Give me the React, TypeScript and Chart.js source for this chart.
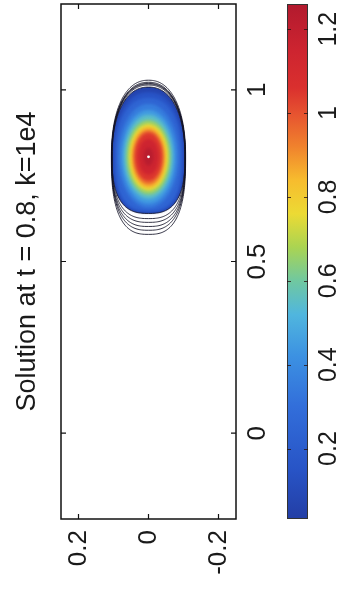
import React, { useEffect, useRef } from "react";
import { Chart, registerables } from "chart.js";

Chart.register(...registerables);

const W = 341;
const H = 591;

// Axis ranges (the figure is rotated: solution x runs upward, solution y runs right-to-left)
const posMin = -0.25;
const posMax = 1.25;
const crossMin = -0.25;
const crossMax = 0.25;
const colorMin = 0.032;
const colorMax = 1.26;

// Ticks
const posTicks = [0, 0.5, 1];
const posTickLabels = ["0", "0.5", "1"];
const crossTicks = [0.2, 0, -0.2];
const crossTickLabels = ["0.2", "0", "-0.2"];
const colorTicks = [0.2, 0.4, 0.6, 0.8, 1, 1.2];
const colorTickLabels = ["0.2", "0.4", "0.6", "0.8", "1", "1.2"];

const titleText = "Solution at t = 0.8, k=1e4";

// Peak of the solution
const peakPos = 0.805;
const peakCross = 0;
const peakValue = 1.26;

// Filled contour levels: extent above / below the peak (along x) and half-width (along y)
const fillLevels = [0.03, 0.1, 0.2, 0.3, 0.4, 0.5, 0.6, 0.7, 0.8, 0.9, 1.0, 1.1, 1.2];
const fillUp = [0.203, 0.188, 0.171, 0.154, 0.136, 0.122, 0.107, 0.096, 0.087, 0.078, 0.07, 0.052, 0.026];
const fillDown = [0.165, 0.162, 0.157, 0.148, 0.136, 0.122, 0.11, 0.099, 0.09, 0.081, 0.07, 0.052, 0.026];
const fillHalf = [0.104, 0.1, 0.094, 0.086, 0.077, 0.07, 0.063, 0.056, 0.05, 0.044, 0.039, 0.029, 0.014];

// Low-level contour lines (drawn in black)
const lineLevels = [0.003, 0.006, 0.01, 0.015, 0.02, 0.03];
const lineUp = [0.223, 0.217, 0.214, 0.212, 0.209, 0.203];
const lineDown = [0.226, 0.214, 0.203, 0.191, 0.18, 0.165];
const lineHalf = [0.106, 0.105, 0.105, 0.105, 0.104, 0.104];

// Colormap (scanned jet)
const paletteValues = [0.03, 0.15, 0.3, 0.42, 0.52, 0.6, 0.68, 0.76, 0.84, 0.92, 1.0, 1.06, 1.15, 1.26];
const paletteColors = [
  [35, 62, 165],
  [40, 84, 198],
  [50, 110, 218],
  [60, 145, 226],
  [80, 182, 222],
  [112, 200, 160],
  [170, 212, 82],
  [236, 218, 52],
  [247, 188, 46],
  [240, 130, 45],
  [230, 82, 48],
  [218, 48, 46],
  [205, 36, 48],
  [178, 26, 46],
];

function colorAt(v: number): string {
  if (v <= paletteValues[0]) return `rgb(${paletteColors[0].join(",")})`;
  for (let i = 1; i < paletteValues.length; i++) {
    if (v <= paletteValues[i]) {
      const t = (v - paletteValues[i - 1]) / (paletteValues[i] - paletteValues[i - 1]);
      const a = paletteColors[i - 1];
      const b = paletteColors[i];
      const c = a.map((ai, k) => Math.round(ai + (b[k] - ai) * t));
      return `rgb(${c.join(",")})`;
    }
  }
  return `rgb(${paletteColors[paletteColors.length - 1].join(",")})`;
}

function blobPath(
  ctx: CanvasRenderingContext2D,
  cx: number,
  cy: number,
  up: number,
  down: number,
  half: number,
  nTop: number,
  nBot: number
) {
  const N = 120;
  ctx.beginPath();
  for (let i = 0; i <= N; i++) {
    const t = (Math.PI * i) / N;
    const c = Math.cos(t);
    const s = Math.sin(t);
    const px = cx + half * Math.sign(c) * Math.pow(Math.abs(c), 2 / nTop);
    const py = cy - up * Math.pow(Math.abs(s), 2 / nTop);
    if (i === 0) ctx.moveTo(px, py);
    else ctx.lineTo(px, py);
  }
  for (let i = 1; i < N; i++) {
    const t = Math.PI + (Math.PI * i) / N;
    const c = Math.cos(t);
    const s = Math.sin(t);
    const px = cx + half * Math.sign(c) * Math.pow(Math.abs(c), 2 / nBot);
    const py = cy + down * Math.pow(Math.abs(s), 2 / nBot);
    ctx.lineTo(px, py);
  }
  ctx.closePath();
}

const FONT = '"Liberation Sans", Arial, Helvetica, sans-serif';

function rotText(
  ctx: CanvasRenderingContext2D,
  text: string,
  x: number,
  y: number,
  align: CanvasTextAlign,
  size: number
) {
  ctx.save();
  ctx.translate(x, y);
  ctx.rotate(-Math.PI / 2);
  ctx.font = `${size}px ${FONT}`;
  ctx.textAlign = align;
  ctx.textBaseline = "middle";
  ctx.fillStyle = "#1a1a1a";
  ctx.fillText(text, 0, 0);
  ctx.restore();
}

const contourPlugin = {
  id: "contours",
  beforeDatasetsDraw(chart: any) {
    const { ctx, chartArea, scales } = chart;
    const xs = scales.x;
    const ys = scales.y;
    const cx = xs.getPixelForValue(peakCross);
    const cy = ys.getPixelForValue(peakPos);
    const vPx = (d: number) => Math.abs(ys.getPixelForValue(peakPos + d) - cy);
    const hPx = (d: number) => Math.abs(xs.getPixelForValue(peakCross + d) - cx);
    ctx.save();
    ctx.beginPath();
    ctx.rect(chartArea.left, chartArea.top, chartArea.right - chartArea.left, chartArea.bottom - chartArea.top);
    ctx.clip();
    fillLevels.forEach((L, i) => {
      const next = i + 1 < fillLevels.length ? fillLevels[i + 1] : peakValue;
      ctx.fillStyle = colorAt((L + next) / 2);
      ctx.filter = i === 0 ? "none" : "blur(1.6px)";
      const outer = i < 3;
      blobPath(ctx, cx, cy, vPx(fillUp[i]), vPx(fillDown[i]), hPx(fillHalf[i]), outer ? 2.25 : 2, outer ? 2.7 : 2);
      ctx.fill();
    });
    ctx.filter = "none";
    ctx.strokeStyle = "rgba(18,18,38,0.85)";
    ctx.lineWidth = 1;
    lineLevels.forEach((L, i) => {
      blobPath(ctx, cx, cy, vPx(lineUp[i]), vPx(lineDown[i]), hPx(lineHalf[i]), 2.25, 2.7);
      ctx.stroke();
    });
    ctx.restore();
  },
};

const axesPlugin = {
  id: "axesDecor",
  afterDraw(chart: any) {
    const { ctx, chartArea, scales } = chart;
    const xs = scales.x;
    const ys = scales.y;
    const cs = scales.c;
    const { left, right, top, bottom } = chartArea;
    ctx.save();
    // frame
    ctx.strokeStyle = "#111";
    ctx.lineWidth = 1.5;
    ctx.strokeRect(left, top, right - left, bottom - top);
    // ticks
    ctx.lineWidth = 1.2;
    const tl = 5;
    ctx.beginPath();
    posTicks.forEach((v) => {
      const py = ys.getPixelForValue(v);
      ctx.moveTo(left, py);
      ctx.lineTo(left + tl, py);
      ctx.moveTo(right, py);
      ctx.lineTo(right - tl, py);
    });
    crossTicks.forEach((v) => {
      const px = xs.getPixelForValue(v);
      ctx.moveTo(px, top);
      ctx.lineTo(px, top + tl);
      ctx.moveTo(px, bottom);
      ctx.lineTo(px, bottom - tl);
    });
    ctx.stroke();
    // tick labels
    posTicks.forEach((v, i) => rotText(ctx, posTickLabels[i], 258, ys.getPixelForValue(v), "center", 26));
    crossTicks.forEach((v, i) => rotText(ctx, crossTickLabels[i], xs.getPixelForValue(v), 530, "right", 26));
    // title
    rotText(ctx, titleText, 28, (top + bottom) / 2, "center", 27);

    // colorbar
    const cbL = 287;
    const cbR = 308;
    const yTop = cs.getPixelForValue(colorMax);
    const yBot = cs.getPixelForValue(colorMin);
    const grad = ctx.createLinearGradient(0, yBot, 0, yTop);
    paletteValues.forEach((v, i) => {
      const t = Math.min(1, Math.max(0, (v - colorMin) / (colorMax - colorMin)));
      grad.addColorStop(t, `rgb(${paletteColors[i].join(",")})`);
    });
    ctx.fillStyle = grad;
    ctx.fillRect(cbL, yTop, cbR - cbL, yBot - yTop);
    ctx.strokeStyle = "#333";
    ctx.lineWidth = 1;
    ctx.strokeRect(cbL + 0.5, yTop + 0.5, cbR - cbL - 1, yBot - yTop - 1);
    ctx.strokeStyle = "rgba(40,20,20,0.8)";
    ctx.beginPath();
    colorTicks.forEach((v) => {
      const py = Math.round(cs.getPixelForValue(v)) + 0.5;
      ctx.moveTo(cbL, py);
      ctx.lineTo(cbL + 4, py);
      ctx.moveTo(cbR, py);
      ctx.lineTo(cbR - 4, py);
    });
    ctx.stroke();
    colorTicks.forEach((v, i) => rotText(ctx, colorTickLabels[i], 329, cs.getPixelForValue(v), "center", 25));
    ctx.restore();
  },
};

export default function App() {
  const ref = useRef<HTMLCanvasElement | null>(null);
  useEffect(() => {
    if (!ref.current) return;
    const chart = new Chart(ref.current, {
      type: "scatter",
      data: {
        datasets: [
          {
            data: [{ x: peakCross, y: peakPos }],
            pointRadius: 1.4,
            pointBackgroundColor: "#ffffff",
            pointBorderColor: "#ffffff",
            pointBorderWidth: 0,
          },
        ],
      },
      options: {
        animation: false,
        responsive: false,
        devicePixelRatio: 1,
        events: [],
        layout: { padding: { left: 61, right: 105, top: 1, bottom: 72 } },
        plugins: {
          legend: { display: false },
          tooltip: { enabled: false },
          title: { display: false },
        },
        scales: {
          x: { type: "linear", min: crossMin, max: crossMax, reverse: true, display: false },
          y: { type: "linear", min: posMin, max: posMax, display: false },
          c: { type: "linear", axis: "y", min: colorMin, max: colorMax, display: false },
        },
      } as any,
      plugins: [contourPlugin, axesPlugin],
    });
    return () => chart.destroy();
  }, []);
  return (
    <div style={{ position: "fixed", left: 0, top: 0, width: W, height: H, background: "#fff" }}>
      <canvas ref={ref} width={W} height={H} style={{ display: "block", width: W, height: H }} />
    </div>
  );
}
